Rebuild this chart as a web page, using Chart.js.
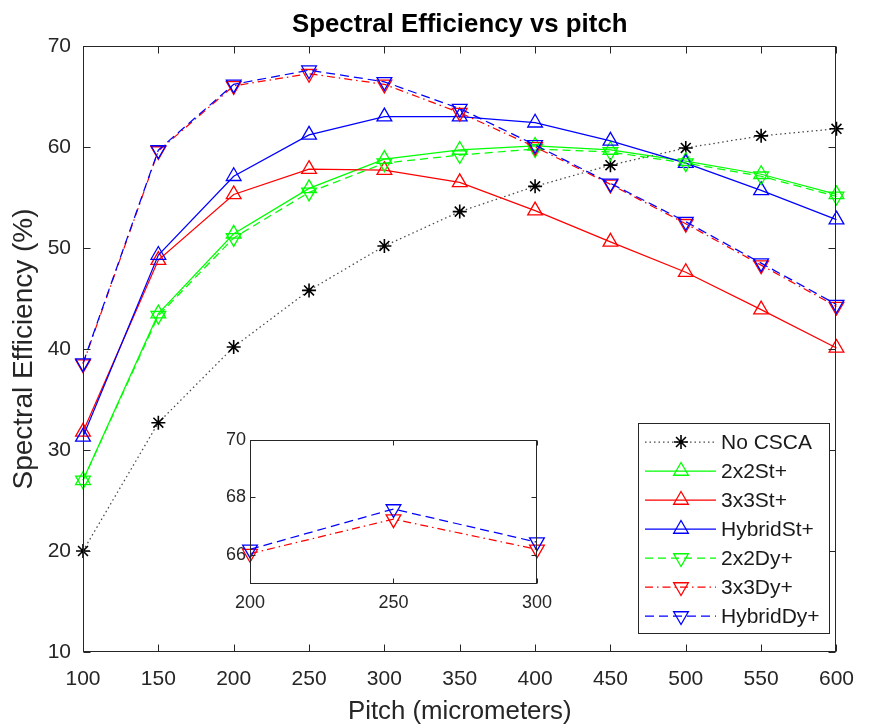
<!DOCTYPE html>
<html>
<head>
<meta charset="utf-8">
<title>Spectral Efficiency vs pitch</title>
<script src="https://cdn.jsdelivr.net/npm/chart.js@4.4.1/dist/chart.umd.min.js"></script>
<style>
  html, body { margin: 0; padding: 0; background: #fff; }
  #wrap { position: relative; width: 869px; height: 728px; }
  #main { position: absolute; left: 0; top: 0; }
  #inset { position: absolute; left: 200px; top: 425px; }
</style>
</head>
<body>
<div id="wrap">
  <canvas id="main" width="869" height="728"></canvas>
  <canvas id="inset" width="360" height="200"></canvas>
</div>
<script>
// values
const pitch = [100, 150, 200, 250, 300, 350, 400, 450, 500, 550, 600];
const noCsca   = [20.0, 32.7, 40.2, 45.8, 50.2, 53.6, 56.1, 58.2, 59.9, 61.1, 61.8];
const st2x2    = [27.0, 43.5, 51.4, 55.9, 58.8, 59.7, 60.1, 59.7, 58.6, 57.3, 55.3];
const st3x3    = [31.8, 48.8, 55.3, 57.8, 57.7, 56.5, 53.7, 50.6, 47.6, 43.9, 40.1];
const stHybrid = [31.3, 49.3, 57.1, 61.2, 63.0, 63.0, 62.4, 60.6, 58.4, 55.7, 52.8];
const dy2x2    = [27.0, 43.3, 51.0, 55.5, 58.4, 59.2, 59.8, 59.5, 58.4, 57.1, 55.1];
const dy3x3    = [38.5, 59.6, 66.05, 67.25, 66.2, 63.4, 60.0, 56.3, 52.4, 48.3, 44.2];
const dyHybrid = [38.6, 59.7, 66.2, 67.6, 66.45, 63.8, 60.2, 56.4, 52.6, 48.5, 44.4];

const xTicks = [100, 150, 200, 250, 300, 350, 400, 450, 500, 550, 600];
const yTicks = [10, 20, 30, 40, 50, 60, 70];

// zoomed inset: pitch 200..300
const insetFrom = 2, insetTo = 5;
const insetXTicks = [200, 250, 300];
const insetYTicks = [66, 68, 70];

const FONT = "'Liberation Sans', Arial, Helvetica, sans-serif";
const AXIS = '#262626';
Chart.defaults.font.family = FONT;

function series(label, values, xs, lineColor, markColor, dash, marker, rot, n) {
  return {
    label: label,
    data: xs.map((p, i) => ({ x: p, y: values[i] })),
    borderColor: lineColor,
    borderWidth: 1.25,
    borderDash: dash,
    pointStyle: marker,
    pointRotation: rot,
    pointRadius: marker === 'star' ? 7 : 8.5,
    pointBorderColor: markColor,
    pointBackgroundColor: 'rgba(0,0,0,0)',
    pointBorderWidth: marker === 'star' ? 1.6 : 1.3,
    tension: 0,
    fill: false,
    clip: false,
    order: n
  };
}

function drawMarker(ctx, kind, x, y, r, rot) {
  ctx.beginPath();
  if (kind === 'triangle') {
    let a = rot * Math.PI / 180;
    ctx.moveTo(x + Math.sin(a) * r, y - Math.cos(a) * r);
    a += 2 * Math.PI / 3;
    ctx.lineTo(x + Math.sin(a) * r, y - Math.cos(a) * r);
    a += 2 * Math.PI / 3;
    ctx.lineTo(x + Math.sin(a) * r, y - Math.cos(a) * r);
    ctx.closePath();
  } else {
    for (let k = 0; k < 4; k++) {
      const a = k * Math.PI / 4;
      ctx.moveTo(x + Math.cos(a) * r, y + Math.sin(a) * r);
      ctx.lineTo(x - Math.cos(a) * r, y - Math.sin(a) * r);
    }
  }
  ctx.stroke();
}

// box + inward ticks on all four sides (matlab style)
const boxTicks = {
  id: 'boxTicks',
  afterDraw(chart, args, opts) {
    const { ctx, chartArea: a, scales: { x, y } } = chart;
    const L = Math.round(a.left) + 0.5, R = Math.round(a.right) - 0.5;
    const T = Math.round(a.top) + 0.5, B = Math.round(a.bottom) - 0.5;
    const len = opts.len || 7;
    ctx.save();
    ctx.strokeStyle = AXIS;
    ctx.lineWidth = 1;
    ctx.setLineDash([]);
    ctx.beginPath();
    x.ticks.forEach(t => {
      const px = Math.round(x.getPixelForValue(t.value)) + 0.5;
      ctx.moveTo(px, B); ctx.lineTo(px, B - len);
      ctx.moveTo(px, T); ctx.lineTo(px, T + len);
    });
    y.ticks.forEach(t => {
      const py = Math.round(y.getPixelForValue(t.value)) + 0.5;
      ctx.moveTo(L, py); ctx.lineTo(L + len, py);
      ctx.moveTo(R, py); ctx.lineTo(R - len, py);
    });
    ctx.stroke();
    ctx.strokeRect(L, T, R - L, B - T);
    ctx.restore();
  }
};

const whiteArea = {
  id: 'whiteArea',
  beforeDraw(chart) {
    const { ctx, chartArea: a } = chart;
    ctx.save();
    ctx.fillStyle = '#fff';
    ctx.fillRect(a.left, a.top, a.right - a.left, a.bottom - a.top);
    ctx.restore();
  }
};

const boxLegend = {
  id: 'boxLegend',
  afterDraw(chart) {
    const ctx = chart.ctx;
    const bx = 638.5, by = 423.5, bw = 191, bh = 210;
    ctx.save();
    ctx.fillStyle = '#fff';
    ctx.fillRect(bx, by, bw, bh);
    ctx.strokeStyle = AXIS;
    ctx.lineWidth = 1;
    ctx.strokeRect(bx, by, bw, bh);
    ctx.font = '21px ' + FONT;
    ctx.textBaseline = 'middle';
    ctx.textAlign = 'left';
    chart.data.datasets.forEach((ds, i) => {
      const yy = 442 + i * 29;
      ctx.strokeStyle = ds.borderColor;
      ctx.lineWidth = ds.borderWidth;
      ctx.setLineDash(ds.borderDash || []);
      ctx.beginPath();
      ctx.moveTo(645, yy);
      ctx.lineTo(716, yy);
      ctx.stroke();
      ctx.setLineDash([]);
      ctx.strokeStyle = ds.pointBorderColor;
      ctx.lineWidth = ds.pointBorderWidth;
      drawMarker(ctx, ds.pointStyle, 681, yy, ds.pointRadius, ds.pointRotation);
      ctx.fillStyle = '#1a1a1a';
      ctx.fillText(ds.label, 721, yy + 1);
    });
    ctx.restore();
  }
};

const mainSets = [
  series('No CSCA', noCsca, pitch, 'rgba(40,40,40,0.85)', '#000', [1.5, 3], 'star', 0, 6),
  series('2x2St+', st2x2, pitch, '#00ff00', '#00ff00', [], 'triangle', 0, 5),
  series('3x3St+', st3x3, pitch, '#ff0000', '#ff0000', [], 'triangle', 0, 4),
  series('HybridSt+', stHybrid, pitch, '#0000ff', '#0000ff', [], 'triangle', 0, 3),
  series('2x2Dy+', dy2x2, pitch, '#00ff00', '#00ff00', [8, 5], 'triangle', 180, 2),
  series('3x3Dy+', dy3x3, pitch, '#ff0000', '#ff0000', [8, 4, 1.5, 4], 'triangle', 180, 1),
  series('HybridDy+', dyHybrid, pitch, '#0000ff', '#0000ff', [9, 5], 'triangle', 180, 0)
];

new Chart(document.getElementById('main'), {
  type: 'line',
  data: { datasets: mainSets },
  options: {
    responsive: false,
    devicePixelRatio: 1,
    animation: false,
    events: [],
    layout: { padding: { top: 0, right: 21, bottom: 0, left: 0 } },
    plugins: {
      legend: { display: false },
      tooltip: { enabled: false },
      title: {
        display: true,
        fullSize: false,
        text: 'Spectral Efficiency vs pitch',
        color: '#000',
        font: { size: 25.8, weight: 'bold' },
        padding: { top: 9, bottom: 6 }
      },
      boxTicks: { len: 7 }
    },
    scales: {
      x: {
        type: 'linear',
        min: 100, max: 600,
        afterBuildTicks: s => { s.ticks = xTicks.map(v => ({ value: v })); },
        afterFit: s => { s.height = 76; },
        grid: { display: false, drawTicks: false },
        border: { display: false },
        ticks: { color: AXIS, font: { size: 21 }, padding: 15, maxRotation: 0 },
        title: {
          display: true, text: 'Pitch (micrometers)', color: AXIS,
          font: { size: 25.8 }, padding: { top: 0, bottom: 1 }
        }
      },
      y: {
        min: 10, max: 70,
        afterBuildTicks: s => { s.ticks = yTicks.map(v => ({ value: v })); },
        afterFit: s => { s.width = 83; },
        grid: { display: false, drawTicks: false },
        border: { display: false },
        ticks: { color: AXIS, font: { size: 21 }, padding: 12 },
        title: {
          display: true, text: 'Spectral Efficiency (%)', color: AXIS,
          font: { size: 28 }, padding: { top: 7, bottom: 0 }
        }
      }
    }
  },
  plugins: [whiteArea, boxTicks, boxLegend]
});

const insetX = pitch.slice(insetFrom, insetTo);
const insetSets = [
  series('3x3Dy+', dy3x3.slice(insetFrom, insetTo), insetX, '#ff0000', '#ff0000', [8, 4, 1.5, 4], 'triangle', 180, 1),
  series('HybridDy+', dyHybrid.slice(insetFrom, insetTo), insetX, '#0000ff', '#0000ff', [9, 5], 'triangle', 180, 0)
];

new Chart(document.getElementById('inset'), {
  type: 'line',
  data: { datasets: insetSets },
  options: {
    responsive: false,
    devicePixelRatio: 1,
    animation: false,
    events: [],
    layout: { padding: { top: 12, right: 15, bottom: 0, left: 0 } },
    plugins: {
      legend: { display: false },
      tooltip: { enabled: false },
      title: { display: false },
      boxTicks: { len: 5 }
    },
    scales: {
      x: {
        type: 'linear',
        min: 200, max: 300,
        afterBuildTicks: s => { s.ticks = insetXTicks.map(v => ({ value: v })); },
        afterFit: s => { s.height = 41; },
        grid: { display: false, drawTicks: false },
        border: { display: false },
        ticks: { color: AXIS, font: { size: 18 }, padding: 8, maxRotation: 0 }
      },
      y: {
        min: 65, max: 70,
        afterBuildTicks: s => { s.ticks = insetYTicks.map(v => ({ value: v })); },
        afterFit: s => { s.width = 50; },
        grid: { display: false, drawTicks: false },
        border: { display: false },
        ticks: { color: AXIS, font: { size: 18 }, padding: 4 }
      }
    }
  },
  plugins: [whiteArea, boxTicks]
});
</script>
</body>
</html>
